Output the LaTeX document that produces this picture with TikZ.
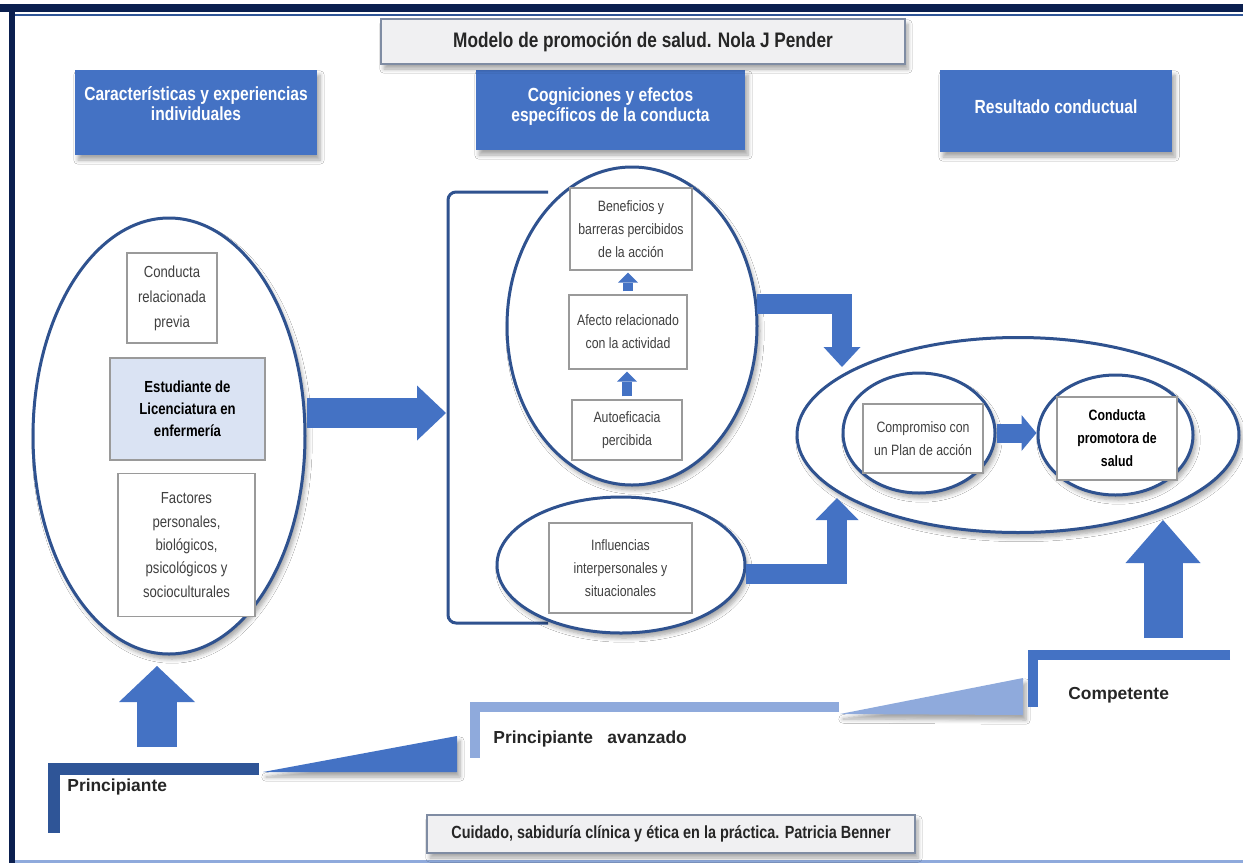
\documentclass[tikz,border=0pt]{standalone}
\usepackage{fontspec}
\setmainfont{Liberation Sans}
\newfontfamily\narrowfont[FakeStretch=0.82]{Liberation Sans}
\usetikzlibrary{arrows.meta,shapes.geometric,shadows.blur}

\definecolor{boxblue}{HTML}{4472C4}
\definecolor{ringblue}{HTML}{2F528F}
\definecolor{navy}{HTML}{0B1F4F}
\definecolor{darkblue}{HTML}{2F5597}
\definecolor{lightblue}{HTML}{8FAADC}
\definecolor{paleblue}{HTML}{DAE3F3}
\definecolor{boxgray}{HTML}{9A9A9A}
\definecolor{titlegray}{HTML}{F0F0F2}
\definecolor{titleedge}{HTML}{7F8CA3}
\definecolor{textgray}{HTML}{404040}

\begin{document}
\begin{tikzpicture}[x=0.5pt,y=-0.5pt,
    softshadow/.style={blur shadow={shadow xshift=1.5pt,shadow yshift=-2.5pt,shadow blur steps=6,shadow opacity=35}},
    blockarrow/.style args={#1/#2/#3}{draw=boxblue,line width=#1,line join=miter,
      -{Triangle[width=#2,length=#3,line width=0pt]}}]

  \fill[white] (0,0) rectangle (1243,863);
  \useasboundingbox (0,0) rectangle (1243,863);

  % frame
  \fill[navy] (0,4) rectangle (1243,12);
  \draw[darkblue,line width=1pt] (15,14.5) -- (1243,14.5);
  \fill[navy] (9,4) rectangle (15,863);
  \draw[lightblue,line width=1.2pt] (15,861.5) -- (1243,861.5);

  % bracket
  \coordinate (k1) at (548,192);
  \coordinate (k2) at (448,192);
  \coordinate (k3) at (448,623);
  \coordinate (k4) at (548,623);
  \draw[ringblue,line width=1.5pt,rounded corners=4pt] (k1) -- (k2) -- (k3) -- (k4);

  \begin{scope}[every node/.style={ellipse,draw=ringblue,line width=1.5pt,fill=white,inner sep=0pt,softshadow}]
    \node[minimum width=136pt,minimum height=218pt] (E1) at (169,436) {};
    \node[minimum width=125pt,minimum height=159pt] (E2) at (632,326) {};
    \node[minimum width=124pt,minimum height=68pt] (E3) at (621,565) {};
    \node[minimum width=221pt,minimum height=97.5pt] (E4) at (1018,435) {};
    \node[minimum width=76pt,minimum height=60pt] (E5) at (919,433) {};
    \node[minimum width=77.5pt,minimum height=60pt] (E6) at (1115.5,435) {};
  \end{scope}

  \begin{scope}[every node/.style={fill=boxblue,text=white,align=center,inner sep=0pt,softshadow,
      font=\narrowfont\bfseries\fontsize{9.5}{10}\selectfont}]
    \node[minimum width=121pt,minimum height=42.5pt,text depth=9pt] (h1) at (196,112.5) {Características y experiencias\\individuales};
    \node[minimum width=134.5pt,minimum height=40pt,text depth=5pt] (h2) at (610.5,110) {Cogniciones y efectos\\específicos de la conducta};
    \node[minimum width=116pt,minimum height=41pt,text depth=4pt] (h3) at (1056,111) {Resultado conductual};
  \end{scope}

  \begin{scope}[every node/.style={draw=titleedge,line width=0.8pt,fill=titlegray,inner sep=0pt,softshadow,
      text=black!85,font=\narrowfont\bfseries\fontsize{10.5}{12}\selectfont}]
    \node[minimum width=262pt,minimum height=22.5pt] (t) at (643,41.5) {Modelo de promoción de salud. Nola J Pender};
    \node[minimum width=244pt,minimum height=19pt,font=\narrowfont\bfseries\fontsize{8.8}{10}\selectfont] (b) at (671,834)
      {Cuidado, sabiduría clínica y ética en la práctica. Patricia Benner};
  \end{scope}

  \begin{scope}[every node/.style={draw=boxgray,line width=0.6pt,fill=white,inner sep=0pt,align=center,
      text=textgray,font=\narrowfont\fontsize{7.5}{11.5}\selectfont}]
    \node[minimum width=45pt,minimum height=45pt,font=\narrowfont\fontsize{8}{12.5}\selectfont] (1) at (172,298) {Conducta\\relacionada\\previa};
    \node[minimum width=77.5pt,minimum height=51pt,fill=paleblue,text=black,font=\narrowfont\bfseries\fontsize{8}{11}\selectfont] (2) at (187.5,409) {Estudiante de\\Licenciatura en\\enfermería};
    \node[minimum width=68.5pt,minimum height=71.5pt,font=\narrowfont\fontsize{8}{11.7}\selectfont] (3) at (186.5,545) {Factores\\personales,\\biológicos,\\psicológicos y\\socioculturales};
    \node[minimum width=61pt,minimum height=41pt] (4) at (631,229) {Beneficios y\\barreras percibidos\\de la acción};
    \node[minimum width=59pt,minimum height=37pt] (5) at (628,332) {Afecto relacionado\\con la actividad};
    \node[minimum width=55pt,minimum height=30pt] (6) at (627,430) {Autoeficacia\\percibida};
    \node[minimum width=71.5pt,minimum height=45pt] (7) at (620.5,568) {Influencias\\interpersonales y\\situacionales};
    \node[minimum width=60pt,minimum height=34.5pt] (8) at (923,438.5) {Compromiso con\\un Plan de acción};
    \node[minimum width=60pt,minimum height=41.5pt,text=black,font=\narrowfont\bfseries\fontsize{7.5}{11.5}\selectfont] (9) at (1117,438.5) {Conducta\\promotora de\\salud};
  \end{scope}

  % block arrows
  \coordinate (a1) at (446,413);
  \coordinate (a2) at (842,367);
  \coordinate (a3) at (837,498);
  \coordinate (c1) at (157,747);
  \coordinate (c2) at (157,666);
  \coordinate (c3) at (1163,638);
  \coordinate (c4) at (1163,520);
  \draw[blockarrow=15pt/27.5pt/14.5pt] (a1 -| E1.east) -- (a1);
  \draw[blockarrow=10pt/18.5pt/10pt] (E2.10) -| (a2);
  \draw[blockarrow=10pt/21.5pt/11pt] (E3.-4) -| (a3);
  \draw[blockarrow=5pt/10pt/5pt,shorten <=1.5pt,shorten >=1pt] (6.north) -- (6.north |- 5.south);
  \draw[blockarrow=5pt/10pt/5pt,shorten <=1.5pt,shorten >=1pt] (5.north) -- (5.north |- 4.south);
  \draw[blockarrow=9.5pt/18pt/7.5pt] (E5.east) -- (E5.east -| E6.west);
  \draw[blockarrow=20pt/38pt/18pt] (c1) -- (c2);
  \draw[blockarrow=19.5pt/37.5pt/21.5pt] (c3) -- (c4);

  % steps
  \fill[boxblue,softshadow] (263,772) -- (457,736) -- (457,772) -- cycle;
  \fill[lightblue,softshadow] (840,714) -- (1023,678) -- (1023,715) -- cycle;
  \draw[darkblue,line width=6pt,line join=miter] (259,769) -- (53.5,769) -- (53.5,833);
  \draw[lightblue,line width=5pt,line join=miter] (839,707) -- (475,707) -- (475,758);
  \draw[boxblue,line width=5pt,line join=miter] (1230,655) -- (1032.5,655) -- (1032.5,707);

  \begin{scope}[every node/.style={anchor=west,inner sep=0pt,text=black!85,font=\bfseries\fontsize{8.7}{10}\selectfont}]
    \node (p1) at (67,787) {Principiante};
    \node (p2) at (493,739) {Principiante\ \ \ avanzado};
    \node (p3) at (1068,695) {Competente};
  \end{scope}

\end{tikzpicture}
\end{document}
